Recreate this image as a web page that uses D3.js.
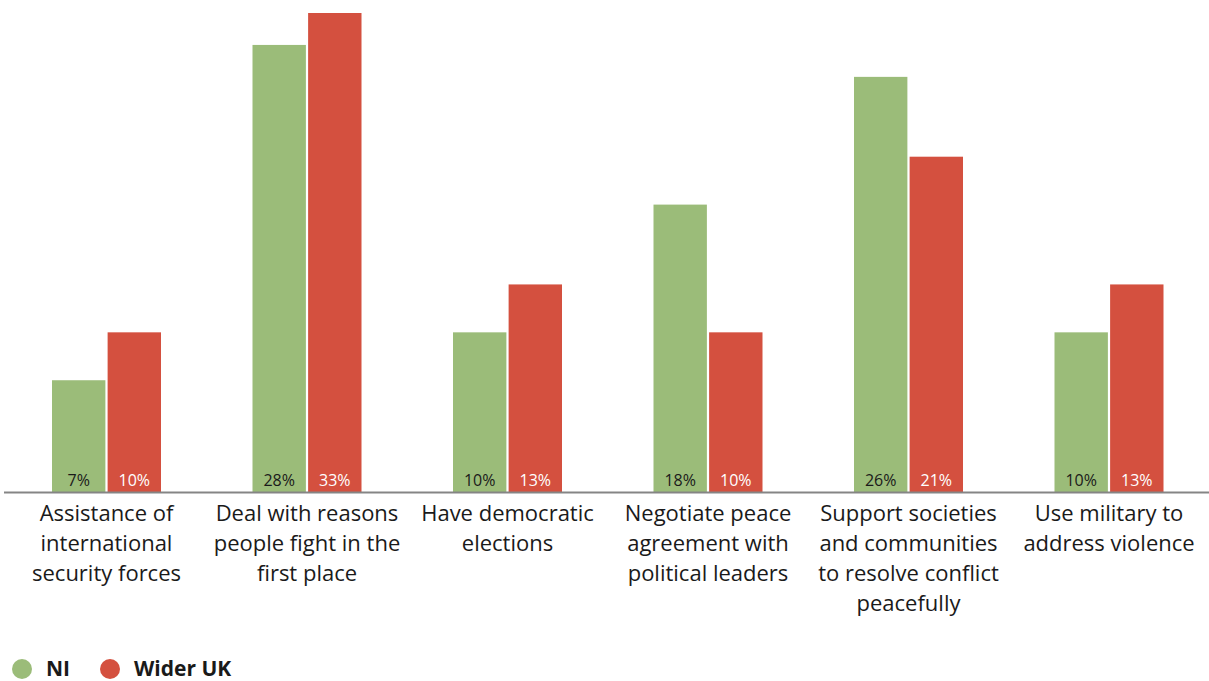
<!DOCTYPE html>
<html>
<head>
<meta charset="utf-8">
<script src="https://cdn.jsdelivr.net/npm/d3@7"></script>
<style>
  body { margin: 0; background: #fff; }
  text { font-family: "Open Sans", sans-serif; }
</style>
</head>
<body>
<script>
var categories = [
  ["Assistance of", "international", "security forces"],
  ["Deal with reasons", "people fight in the", "first place"],
  ["Have democratic", "elections"],
  ["Negotiate peace", "agreement with", "political leaders"],
  ["Support societies", "and communities", "to resolve conflict", "peacefully"],
  ["Use military to", "address violence"]
];
var seriesNames = ["NI", "Wider UK"];
var niValues = [7, 28, 10, 18, 26, 10];
var ukValues = [10, 33, 13, 10, 21, 13];
var colors = ["#9bbc79", "#d4503f"];
var labelColors = ["#1a1a1a", "#ffffff"];

var width = 1209, height = 681;
var baseline = 492;

var svg = d3.select("body").append("svg")
  .attr("width", width)
  .attr("height", height);

var idx = d3.range(categories.length);
var x0 = d3.scaleBand().domain(idx).range([5, 1208]);
var x1 = d3.scaleBand().domain([0, 1]).range([47, 156]).paddingInner(0.04);
var y = d3.scaleLinear().domain([0, 30]).range([baseline, 13]).clamp(true);

var data = idx.map(function(i) {
  return { i: i, vals: [niValues[i], ukValues[i]] };
});

var groups = svg.selectAll(".grp")
  .data(data)
  .enter().append("g")
  .attr("class", "grp")
  .attr("transform", function(d) { return "translate(" + x0(d.i) + ",0)"; });

groups.selectAll("rect")
  .data(function(d) { return d.vals.map(function(v, s) { return { s: s, v: v }; }); })
  .enter().append("rect")
  .attr("x", function(d) { return x1(d.s); })
  .attr("y", function(d) { return y(d.v); })
  .attr("width", x1.bandwidth())
  .attr("height", function(d) { return baseline - y(d.v); })
  .attr("fill", function(d) { return colors[d.s]; });

groups.selectAll(".val")
  .data(function(d) { return d.vals.map(function(v, s) { return { s: s, v: v }; }); })
  .enter().append("text")
  .attr("class", "val")
  .attr("x", function(d) { return x1(d.s) + x1.bandwidth() / 2; })
  .attr("y", baseline - 6)
  .attr("text-anchor", "middle")
  .attr("font-size", 16)
  .attr("fill", function(d) { return labelColors[d.s]; })
  .text(function(d) { return d.v + "%"; });

// axis line
svg.append("line")
  .attr("x1", 4).attr("x2", width)
  .attr("y1", baseline + 0.5).attr("y2", baseline + 0.5)
  .attr("stroke", "#858585")
  .attr("stroke-width", 2);

// category labels
var labels = svg.selectAll(".cat")
  .data(data)
  .enter().append("text")
  .attr("class", "cat")
  .attr("text-anchor", "middle")
  .attr("font-size", 22)
  .attr("fill", "#1a1a1a");

labels.selectAll("tspan")
  .data(function(d) { return categories[d.i].map(function(l) { return { i: d.i, l: l }; }); })
  .enter().append("tspan")
  .attr("x", function(d) { return x0(d.i) + (x1.range()[0] + x1.range()[1]) / 2; })
  .attr("y", function(d, k) { return 521 + k * 30; })
  .text(function(d) { return d.l; });

// legend
var legend = svg.append("g").attr("transform", "translate(0,669)");
var legX = [22, 110];
seriesNames.forEach(function(name, s) {
  legend.append("circle")
    .attr("cx", legX[s]).attr("cy", 0).attr("r", 10)
    .attr("fill", colors[s]);
  legend.append("text")
    .attr("x", legX[s] + 24).attr("y", 7)
    .attr("font-size", 21)
    .attr("font-weight", "bold")
    .attr("fill", "#1a1a1a")
    .text(name);
});
</script>
</body>
</html>
